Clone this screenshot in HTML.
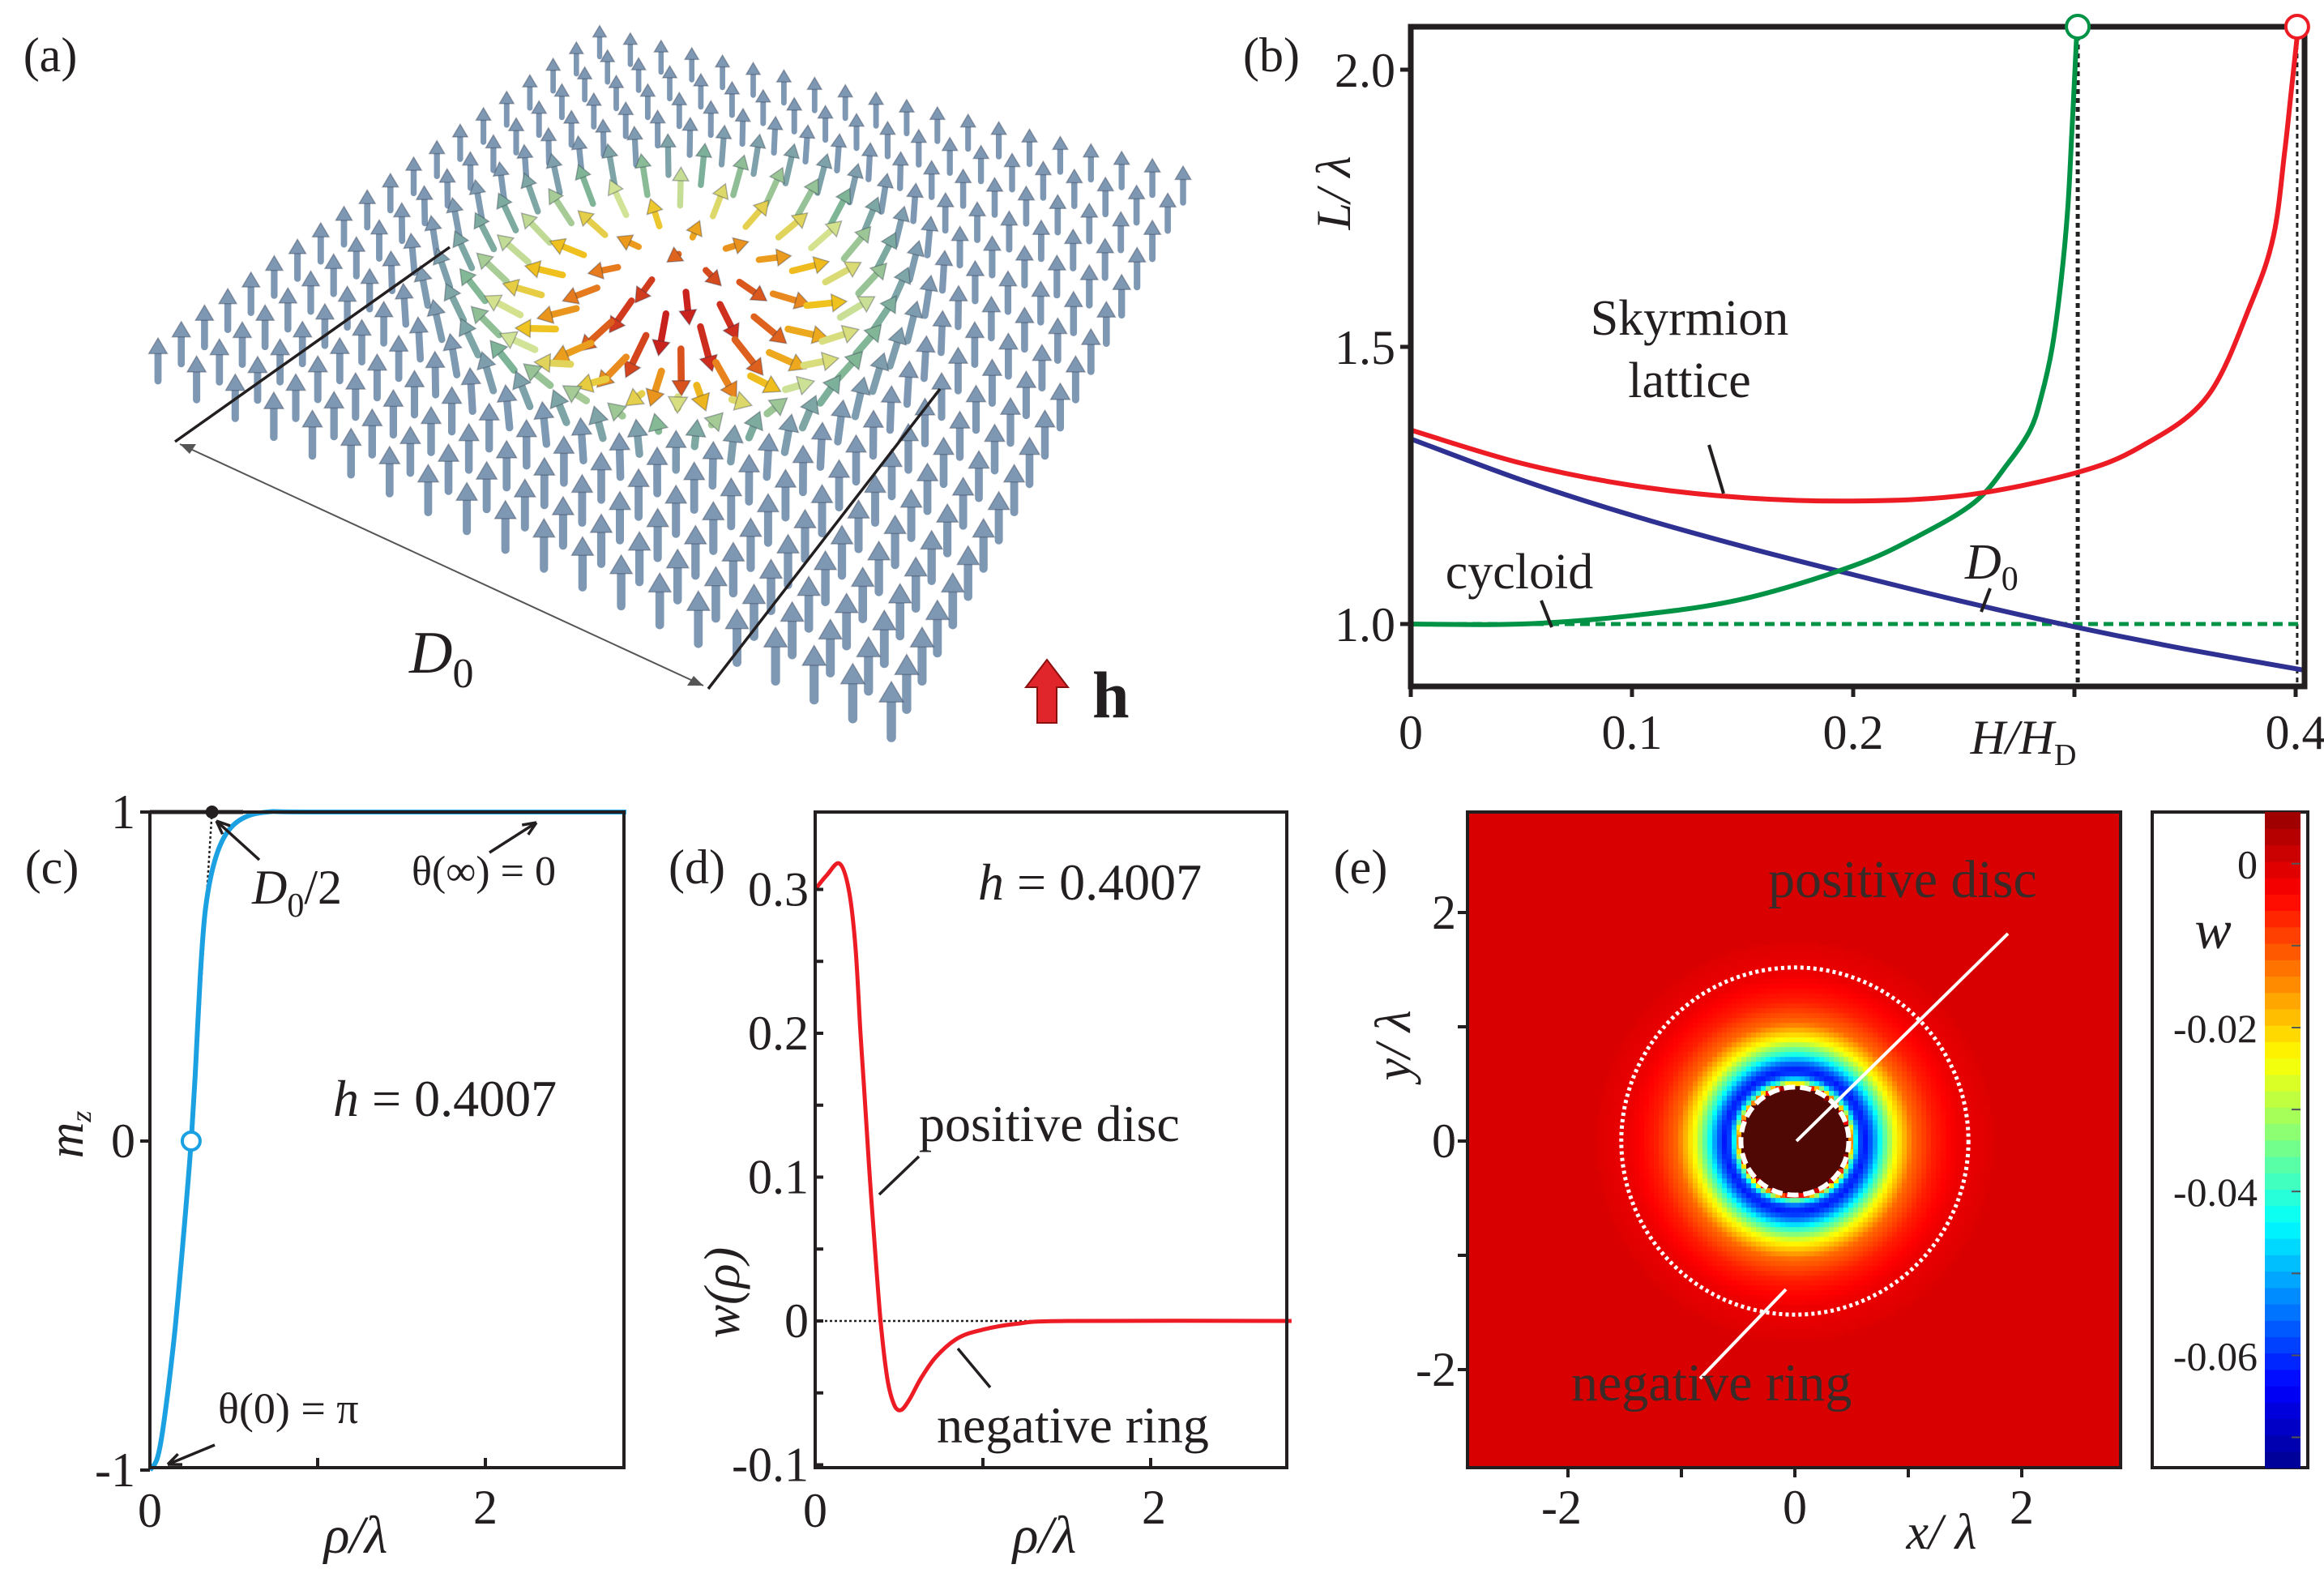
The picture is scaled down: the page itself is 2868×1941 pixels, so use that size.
<!DOCTYPE html>
<html><head><meta charset="utf-8"><style>
html,body{margin:0;padding:0;background:#fff;overflow:hidden}
svg{display:block}
text{font-family:"Liberation Serif",serif;fill:#231f20}
.it{font-style:italic}
</style></head><body>
<svg id="fig" xmlns="http://www.w3.org/2000/svg" width="2868" height="1941" viewBox="0 0 2868 1941">
<rect width="2868" height="1941" fill="#fff"/>
<g id="pa"></g>
<g id="pb"></g>
<g id="pc"></g>
<g id="pd"></g>
<g id="pe"></g>
</svg>
<script>
// ---- Panel b data ----
const bTicksX=[0,0.1,0.2,0.4];
const bTicksY=[1.0,1.5,2.0];
const bRedH=[0,0.05,0.1,0.15,0.2,0.25,0.3,0.33,0.36,0.38,0.39,0.395,0.398,0.4007];
const bRedL=[1.35,1.29,1.25,1.228,1.222,1.232,1.272,1.32,1.41,1.58,1.7,1.85,1.96,2.06];
const bGreenH=[0,0.05,0.1,0.15,0.2,0.23,0.255,0.27,0.28,0.285,0.29,0.294,0.297,0.299,0.301];
const bGreenL=[1.0,1.0,1.015,1.045,1.105,1.16,1.22,1.29,1.35,1.41,1.5,1.62,1.75,1.9,2.06];
const bBlueH=[0,0.05,0.1,0.15,0.2,0.25,0.3,0.35,0.4135];
const bBlueL=[1.334,1.26,1.196,1.14,1.089,1.04,0.995,0.955,0.91];
// ---- Panel c data ----
const cRho=[0,0.04,0.07,0.11,0.15,0.19,0.22,0.246,0.27,0.3,0.33,0.38,0.45,0.55,0.7,1.0,2.84];
const cMz=[-1,-0.97,-0.9,-0.75,-0.57,-0.35,-0.17,0,0.2,0.5,0.7,0.84,0.93,0.98,1,1,1];
// ---- Panel d data ----
const dRho=[0,0.07,0.145,0.2,0.24,0.27,0.29,0.32,0.35,0.39,0.43,0.47,0.51,0.56,0.63,0.72,0.85,1.0,1.2,1.5,2.84];
const dW=[0.30,0.31,0.318,0.30,0.26,0.20,0.165,0.11,0.06,0,-0.04,-0.058,-0.062,-0.055,-0.04,-0.025,-0.012,-0.006,-0.002,0,0];
const dTicksY=[-0.1,0,0.1,0.2,0.3];
// ---- Panel e data ----
const eTicks=[-2,0,2];
const eCbTicks=[0,-0.02,-0.04,-0.06];

const NS="http://www.w3.org/2000/svg";
function mk(parent,tag,attrs,txt){const e=document.createElementNS(NS,tag);for(const k in attrs)e.setAttribute(k,attrs[k]);if(txt!==undefined)e.textContent=txt;parent.appendChild(e);return e;}
function scale(d0,d1,r0,r1){return v=>r0+(v-d0)*(r1-r0)/(d1-d0);}
function pathOf(xs,ys,sx,sy){
 const P=xs.map((x,i)=>[sx(x),sy(ys[i])]);
 let d='M'+P[0][0].toFixed(1)+','+P[0][1].toFixed(1);
 for(let i=0;i<P.length-1;i++){
  const p0=P[Math.max(0,i-1)],p1=P[i],p2=P[i+1],p3=P[Math.min(P.length-1,i+2)];
  const c1=[p1[0]+(p2[0]-p0[0])/6,p1[1]+(p2[1]-p0[1])/6];
  const c2=[p2[0]-(p3[0]-p1[0])/6,p2[1]-(p3[1]-p1[1])/6];
  d+=' C'+c1.map(v=>v.toFixed(1)).join(',')+' '+c2.map(v=>v.toFixed(1)).join(',')+' '+p2[0].toFixed(1)+','+p2[1].toFixed(1);
 }
 return d;}
function interp(xs,ys,x){if(x<=xs[0])return ys[0];for(let i=1;i<xs.length;i++){if(x<=xs[i]){const t=(x-xs[i-1])/(xs[i]-xs[i-1]);return ys[i-1]+t*(ys[i]-ys[i-1]);}}return ys[ys.length-1];}
function zeroCross(xs,ys){for(let i=1;i<xs.length;i++){if(ys[i-1]>0&&ys[i]<=0){return xs[i-1]+(xs[i]-xs[i-1])*ys[i-1]/(ys[i-1]-ys[i]);}}return 0.4;}

// ================= Panel B =================
(function(){
const g=document.getElementById('pb');
const sx=scale(0,0.1,1741,2014), sy=scale(1.0,2.0,770,86);
let t;
t=mk(g,'text',{x:1569,y:88,'font-size':60,'text-anchor':'middle'},'(b)');

const clip=mk(g,'clipPath',{id:'cb'});mk(clip,'rect',{x:1741,y:15,width:1103,height:832});
t=mk(g,'line',{x1:sx(0.3015),y1:33,x2:sx(0.3015),y2:847,stroke:'#222','stroke-width':5,'stroke-dasharray':'6,5'});

t=mk(g,'line',{x1:sx(0.4007),y1:33,x2:sx(0.4007),y2:847,stroke:'#222','stroke-width':3,'stroke-dasharray':'6,5'});

t=mk(g,'line',{x1:sx(0),y1:sy(1),x2:2844,y2:sy(1),stroke:'#009245','stroke-width':5,'stroke-dasharray':'12,7'});

const cg=mk(g,'g',{'clip-path':'url(#cb)'});
t=mk(cg,'path',{d:pathOf(bBlueH,bBlueL,sx,sy),fill:'none',stroke:'#2e3192','stroke-width':6});

t=mk(cg,'path',{d:pathOf(bGreenH,bGreenL,sx,sy),fill:'none',stroke:'#009245','stroke-width':6});

t=mk(cg,'path',{d:pathOf(bRedH,bRedL,sx,sy),fill:'none',stroke:'#ed1c24','stroke-width':6});

t=mk(g,'rect',{x:1741,y:33,width:1103,height:814,fill:'none',stroke:'#231f20','stroke-width':7});

t=mk(g,'circle',{cx:sx(0.3015),cy:33,r:14,fill:'#fff',stroke:'#009245','stroke-width':4});

t=mk(g,'circle',{cx:sx(0.4007),cy:33,r:14,fill:'#fff',stroke:'#ed1c24','stroke-width':4});

[0,0.1,0.2,0.3,0.4].forEach(v=>{const l=mk(g,'line',{x1:sx(v),y1:847,x2:sx(v),y2:860,stroke:'#231f20','stroke-width':5});});
bTicksX.forEach(v=>{const l=mk(g,'text',{x:sx(v),y:924,'font-size':60,'text-anchor':'middle'},v===0?'0':v.toFixed(1));});
bTicksY.forEach(v=>{const l=mk(g,'line',{x1:1728,y1:sy(v),x2:1741,y2:sy(v),stroke:'#231f20','stroke-width':5});
const s=mk(g,'text',{x:1722,y:sy(v)+21,'font-size':60,'text-anchor':'end'},v.toFixed(1));});
t=mk(g,'text',{x:0,y:0,'font-size':60,'text-anchor':'middle',class:'it',transform:'translate(1666,238) rotate(-90)'},'L/ λ');

t=mk(g,'text',{x:2497,y:930,'font-size':60,class:'it','text-anchor':'middle'});t.innerHTML='H/H<tspan font-size="38" font-style="normal" dy="14">D</tspan>';

t=mk(g,'text',{x:2085,y:413,'font-size':62,'text-anchor':'middle'},'Skyrmion');
t=mk(g,'text',{x:2085,y:490,'font-size':62,'text-anchor':'middle'},'lattice');
t=mk(g,'line',{x1:2109,y1:549,x2:2127,y2:609,stroke:'#231f20','stroke-width':4});
t=mk(g,'text',{x:1875,y:726,'font-size':62,'text-anchor':'middle'},'cycloid');
t=mk(g,'line',{x1:1902,y1:741,x2:1915,y2:774,stroke:'#231f20','stroke-width':4});
t=mk(g,'text',{x:2425,y:714,'font-size':62,class:'it'});t.innerHTML='D<tspan font-size="42" font-style="normal" dy="14">0</tspan>';

t=mk(g,'line',{x1:2456,y1:726,x2:2445,y2:755,stroke:'#231f20','stroke-width':4});
})();

// ================= Panel C =================
(function(){
const g=document.getElementById('pc');
const sx=scale(0,1,185,392), sy=scale(0,1,1408,1002);
let t;
t=mk(g,'text',{x:64,y:1090,'font-size':60,'text-anchor':'middle'},'(c)');
t=mk(g,'line',{x1:sx(0.37),y1:sy(1),x2:sx(0.246),y2:sy(0),stroke:'#222','stroke-width':2.5,'stroke-dasharray':'3,3'});
t=mk(g,'path',{d:pathOf(cRho,cMz,sx,sy),fill:'none',stroke:'#1ba1e2','stroke-width':6});
t=mk(g,'rect',{x:185,y:1002,width:585,height:809,fill:'none',stroke:'#231f20','stroke-width':4});
t=mk(g,'line',{x1:185,y1:1002,x2:300,y2:1002,stroke:'#231f20','stroke-width':5});

t=mk(g,'circle',{cx:sx(0.246),cy:sy(0),r:11,fill:'#fff',stroke:'#1ba1e2','stroke-width':4});
t=mk(g,'circle',{cx:sx(0.37),cy:sy(1),r:8,fill:'#231f20'});
[1,0,-1].forEach(v=>{const l=mk(g,'line',{x1:173,y1:sy(v),x2:185,y2:sy(v),stroke:'#231f20','stroke-width':4});
const s=mk(g,'text',{x:167,y:sy(v)+20,'font-size':60,'text-anchor':'end'},v===-1?'-1':String(v));});
[0,1,2].forEach(v=>{const l=mk(g,'line',{x1:sx(v),y1:1811,x2:sx(v),y2:1799,stroke:'#231f20','stroke-width':4});});
[0,2].forEach(v=>{const s=mk(g,'text',{x:sx(v),y:v?1880:1884,'font-size':60,'text-anchor':'middle'},String(v));});
t=mk(g,'text',{x:439,y:1916,'font-size':66,class:'it','text-anchor':'middle'},'ρ/λ');
t=mk(g,'text',{x:0,y:0,'font-size':62,class:'it','text-anchor':'middle',transform:'translate(102,1400) rotate(-90)'});t.innerHTML='m<tspan font-size="36" dy="10">z</tspan>';
t=mk(g,'text',{x:311,y:1115,'font-size':60,class:'it'});t.innerHTML='D<tspan font-size="42" font-style="normal" dy="16">0</tspan><tspan font-style="normal" dy="-16">/2</tspan>';
t=mk(g,'text',{x:508,y:1092,'font-size':52},'θ(∞) = 0');
t=mk(g,'text',{x:411,y:1377,'font-size':64});t.innerHTML='<tspan font-style="italic">h</tspan> = 0.4007';
t=mk(g,'text',{x:269,y:1756,'font-size':54},'θ(0) = π');
function arrow(x1,y1,x2,y2,name){const a=mk(g,'line',{x1,y1,x2,y2,stroke:'#231f20','stroke-width':3.5});
const ang=Math.atan2(y2-y1,x2-x1),L=18;const p=mk(g,'path',{d:`M${x2},${y2} L${x2-L*Math.cos(ang-0.4)},${y2-L*Math.sin(ang-0.4)} M${x2},${y2} L${x2-L*Math.cos(ang+0.4)},${y2-L*Math.sin(ang+0.4)}`,stroke:'#231f20','stroke-width':3.5,fill:'none'});}
arrow(604,1052,662,1015,'theta-infinity-arrow');arrow(320,1061,267,1013,'d0-half-arrow');arrow(265,1783,207,1807,'theta-zero-arrow');
})();

// ================= Panel D =================
(function(){
const g=document.getElementById('pd');
const sx=scale(0,1,1006,1213), sy=scale(0,0.1,1630,1452.5);
let t;
t=mk(g,'text',{x:860,y:1090,'font-size':60,'text-anchor':'middle'},'(d)');
t=mk(g,'line',{x1:1006,y1:sy(0),x2:1588,y2:sy(0),stroke:'#222','stroke-width':2.5,'stroke-dasharray':'3,3'});
t=mk(g,'path',{d:pathOf(dRho,dW,sx,sy),fill:'none',stroke:'#ed1c24','stroke-width':5});
t=mk(g,'rect',{x:1006,y:1002,width:582,height:809,fill:'none',stroke:'#231f20','stroke-width':4});
[-0.1,-0.05,0,0.05,0.1,0.15,0.2,0.25,0.3].forEach(v=>{const l=mk(g,'line',{x1:1006,y1:sy(v),x2:1016,y2:sy(v),stroke:'#231f20','stroke-width':4});});
dTicksY.forEach(v=>{const s=mk(g,'text',{x:998,y:sy(v)+20,'font-size':60,'text-anchor':'end'},v===0?'0':v.toFixed(1));});
[0,1,2].forEach(v=>{const l=mk(g,'line',{x1:sx(v),y1:1811,x2:sx(v),y2:1799,stroke:'#231f20','stroke-width':4});});
[0,2].forEach(v=>{const s=mk(g,'text',{x:sx(v)+(v?4:0),y:v?1880:1884,'font-size':60,'text-anchor':'middle'},String(v));});
t=mk(g,'text',{x:1289,y:1916,'font-size':66,class:'it','text-anchor':'middle'},'ρ/λ');
t=mk(g,'text',{x:0,y:0,'font-size':62,class:'it','text-anchor':'middle',transform:'translate(912,1595) rotate(-90)'},'w(ρ)');
t=mk(g,'text',{x:1207,y:1110,'font-size':64});t.innerHTML='<tspan font-style="italic">h</tspan> = 0.4007';
t=mk(g,'text',{x:1134,y:1408,'font-size':64},'positive disc');
t=mk(g,'line',{x1:1134,y1:1427,x2:1085,y2:1474,stroke:'#231f20','stroke-width':3.5});
t=mk(g,'text',{x:1156,y:1780,'font-size':64},'negative ring');
t=mk(g,'line',{x1:1222,y1:1712,x2:1182,y2:1664,stroke:'#231f20','stroke-width':3.5});
})();

// ================= Panel E =================
function jet(t){t=Math.max(0,Math.min(1,t));
const st=[[0,[0,0,143]],[0.125,[0,0,255]],[0.375,[0,255,255]],[0.625,[255,255,0]],[0.875,[255,0,0]],[1,[150,0,0]]];
for(let i=1;i<st.length;i++){if(t<=st[i][0]){const a=st[i-1],b=st[i],f=(t-a[0])/(b[0]-a[0]);return 'rgb('+[0,1,2].map(k=>Math.round(a[1][k]+f*(b[1][k]-a[1][k]))).join(',')+')';}}return 'rgb(150,0,0)';}
(function(){
const g=document.getElementById('pe');
const sx=scale(0,1,2215,2355), sy=scale(0,1,1408,1267);
const cw=scale(-0.0737,0.0063,0,1);
let t;
t=mk(g,'text',{x:1679,y:1090,'font-size':60,'text-anchor':'middle'},'(e)');
t=mk(g,'rect',{x:1811,y:1002,width:806,height:809,fill:jet(cw(0))});
const hm=mk(g,'g',{});
const cs=6, rs=0.82;
for(let py=sy(1.8);py<sy(-1.8);py+=cs){for(let px=sx(-1.8);px<sx(1.8);px+=cs){
 const ux=(px+cs/2-2215)/140, uy=(1408-(py+cs/2))/141; const r=Math.hypot(ux,uy); if(r>1.75)continue;
 const w=interp(dRho,dW,r*rs); const c=w>0.012?'rgb(80,8,4)':jet(cw(w));
 const rc=mk(hm,'rect',{x:px.toFixed(1),y:py.toFixed(1),width:cs+0.6,height:cs+0.6,fill:c});
 
 
}}
const r0=zeroCross(dRho,dW)/rs;
t=mk(g,'circle',{cx:2215,cy:1408,r:1.53*140,fill:'none',stroke:'#fff','stroke-width':5,'stroke-dasharray':'4,4'});
t=mk(g,'circle',{cx:2215,cy:1408,r:r0*140,fill:'none',stroke:'#fff','stroke-width':6,'stroke-dasharray':'14,6'});
t=mk(g,'rect',{x:1811,y:1002,width:806,height:809,fill:'none',stroke:'#231f20','stroke-width':4});
t=mk(g,'line',{x1:2478,y1:1152,x2:2217,y2:1408,stroke:'#fff','stroke-width':4});
t=mk(g,'line',{x1:2204,y1:1591,x2:2098,y2:1701,stroke:'#fff','stroke-width':4});
t=mk(g,'text',{x:2182,y:1107,'font-size':66,style:'fill:#3a2a28'},'positive disc');
t=mk(g,'text',{x:1939,y:1728,'font-size':66,style:'fill:#3a2a28'},'negative ring');
[-2,-1,0,1,2].forEach(v=>{const l=mk(g,'line',{x1:sx(v),y1:1811,x2:sx(v),y2:1823,stroke:'#231f20','stroke-width':4});
const m=mk(g,'line',{x1:1799,y1:sy(v),x2:1811,y2:sy(v),stroke:'#231f20','stroke-width':4});});
eTicks.forEach(v=>{const s=mk(g,'text',{x:sx(v)-(v<0?8:0),y:1880,'font-size':60,'text-anchor':'middle'},String(v));
const s2=mk(g,'text',{x:1797,y:sy(v)+20,'font-size':60,'text-anchor':'end'},String(v));});
t=mk(g,'text',{x:2396,y:1911,'font-size':62,class:'it','text-anchor':'middle'},'x/ λ');
t=mk(g,'text',{x:0,y:0,'font-size':62,class:'it','text-anchor':'middle',transform:'translate(1740,1290) rotate(-90)'},'y/ λ');
t=mk(g,'rect',{x:2656,y:1002,width:192,height:809,fill:'#fff',stroke:'#231f20','stroke-width':4});
const cby=scale(-0.0737,0.0063,1811,1002);
const nb=40,wmin=-0.0737,span=0.08;
for(let i=0;i<nb;i++){const w0=wmin+i*span/nb;const rr=mk(g,'rect',{x:2795,y:(cby(w0+span/nb)).toFixed(1),width:44,height:(cby(w0)-cby(w0+span/nb)+0.8).toFixed(1),fill:jet(cw(w0+span/nb/2))});

}
[0.0,-0.01,-0.02,-0.03,-0.04,-0.05,-0.06,-0.07].forEach(v=>{const l=mk(g,'line',{x1:2828,y1:cby(v),x2:2839,y2:cby(v),stroke:'#555','stroke-width':2});});
eCbTicks.forEach(v=>{const s=mk(g,'text',{x:2786,y:cby(v)+18,'font-size':50,'text-anchor':'end'},v===0?'0':v.toFixed(2));});
t=mk(g,'text',{x:2731,y:1170,'font-size':68,class:'it','text-anchor':'middle'},'w');
})();

// ================= Panel A =================
(function(){
const g=document.getElementById('pa');
let t;
t=mk(g,'text',{x:62,y:88,'font-size':60,'text-anchor':'middle'},'(a)');
const T=[740,70],R=[1460,250],B=[1100,910],Lc=[195,470];
function P(u,v){return [T[0]+u*(R[0]-T[0])+v*(Lc[0]-T[0])+u*v*(B[0]-R[0]-Lc[0]+T[0]),T[1]+u*(R[1]-T[1])+v*(Lc[1]-T[1])+u*v*(B[1]-R[1]-Lc[1]+T[1])];}
function col(m){const st=[[-1,[200,30,30]],[-0.4,[232,130,30]],[0.1,[240,195,30]],[0.5,[210,228,150]],[0.8,[125,180,150]],[1,[126,152,180]]];
for(let i=1;i<st.length;i++){if(m<=st[i][0]){const a=st[i-1],b=st[i],f=(m-a[0])/(b[0]-a[0]);return 'rgb('+[0,1,2].map(k=>Math.round(a[1][k]+f*(b[1][k]-a[1][k]))).join(',')+')';}}return 'rgb(126,152,180)';}
const N=20,cu=0.43,cv=0.45,Rs=0.4;
const ag=mk(g,'g',{});
for(let i=0;i<N;i++)for(let j=0;j<N;j++){
 const u=i/(N-1),v=j/(N-1);const p=P(u,v);
 const du=u-cu,dv=v-cv;const r=Math.hypot(du,dv)/Rs;
 const th=r>=1?0:Math.PI*(1-r)*(1-r)*(1+r);
 const thc=Math.min(Math.PI,th);
 const mz=Math.cos(thc);
 const s=0.6+0.55*(p[1]/910);
 const L=60*s;
 let dx=0,dy=0;
 if(r>0.01){const q=P(u+du*0.05,v+dv*0.05);dx=q[0]-p[0];dy=q[1]-p[1];const n=Math.hypot(dx,dy)||1;dx/=n;dy/=n;}
 const ex=p[0]+Math.sin(thc)*dx*L, ey=p[1]-Math.cos(thc)*L+Math.sin(thc)*dy*L*0.6;
 const ang=Math.atan2(ey-p[1],ex-p[0]);
 const hl=22*s,hw=13*s;
 const bx=ex-hl*Math.cos(ang),by=ey-hl*Math.sin(ang);
 const c=col(mz);
 const sh=mk(ag,'line',{x1:p[0].toFixed(1),y1:p[1].toFixed(1),x2:bx.toFixed(1),y2:by.toFixed(1),stroke:c,'stroke-width':(10*s).toFixed(1),'stroke-linecap':'round'});
 
 
 const hd=mk(ag,'path',{d:`M${ex.toFixed(1)},${ey.toFixed(1)} L${(bx+hw*Math.sin(ang)).toFixed(1)},${(by-hw*Math.cos(ang)).toFixed(1)} L${(bx-hw*Math.sin(ang)).toFixed(1)},${(by+hw*Math.cos(ang)).toFixed(1)} Z`,fill:c,stroke:'rgba(40,50,70,0.35)','stroke-width':1.5});
 
 
}
t=mk(g,'line',{x1:216,y1:545,x2:555,y2:305,stroke:'#231f20','stroke-width':3.5});
t=mk(g,'line',{x1:874,y1:850,x2:1160,y2:480,stroke:'#231f20','stroke-width':3.5});
t=mk(g,'line',{x1:222,y1:548,x2:868,y2:846,stroke:'#555','stroke-width':2});
t=mk(g,'path',{d:'M222,548 l20,0 l-8,12 Z M868,846 l-20,0 l8,-12 Z',fill:'#555'});
t=mk(g,'text',{x:505,y:830,'font-size':74,class:'it'});t.innerHTML='D<tspan font-size="52" font-style="normal" dy="18">0</tspan>';
t=mk(g,'path',{d:'M1280,892 L1280,848 L1266,848 L1292,814 L1318,848 L1304,848 L1304,892 Z',fill:'#e0262b',stroke:'#8a1010','stroke-width':2});
t=mk(g,'text',{x:1348,y:885,'font-size':82,'font-weight':'bold'},'h');
})();
</script>
</body></html>
